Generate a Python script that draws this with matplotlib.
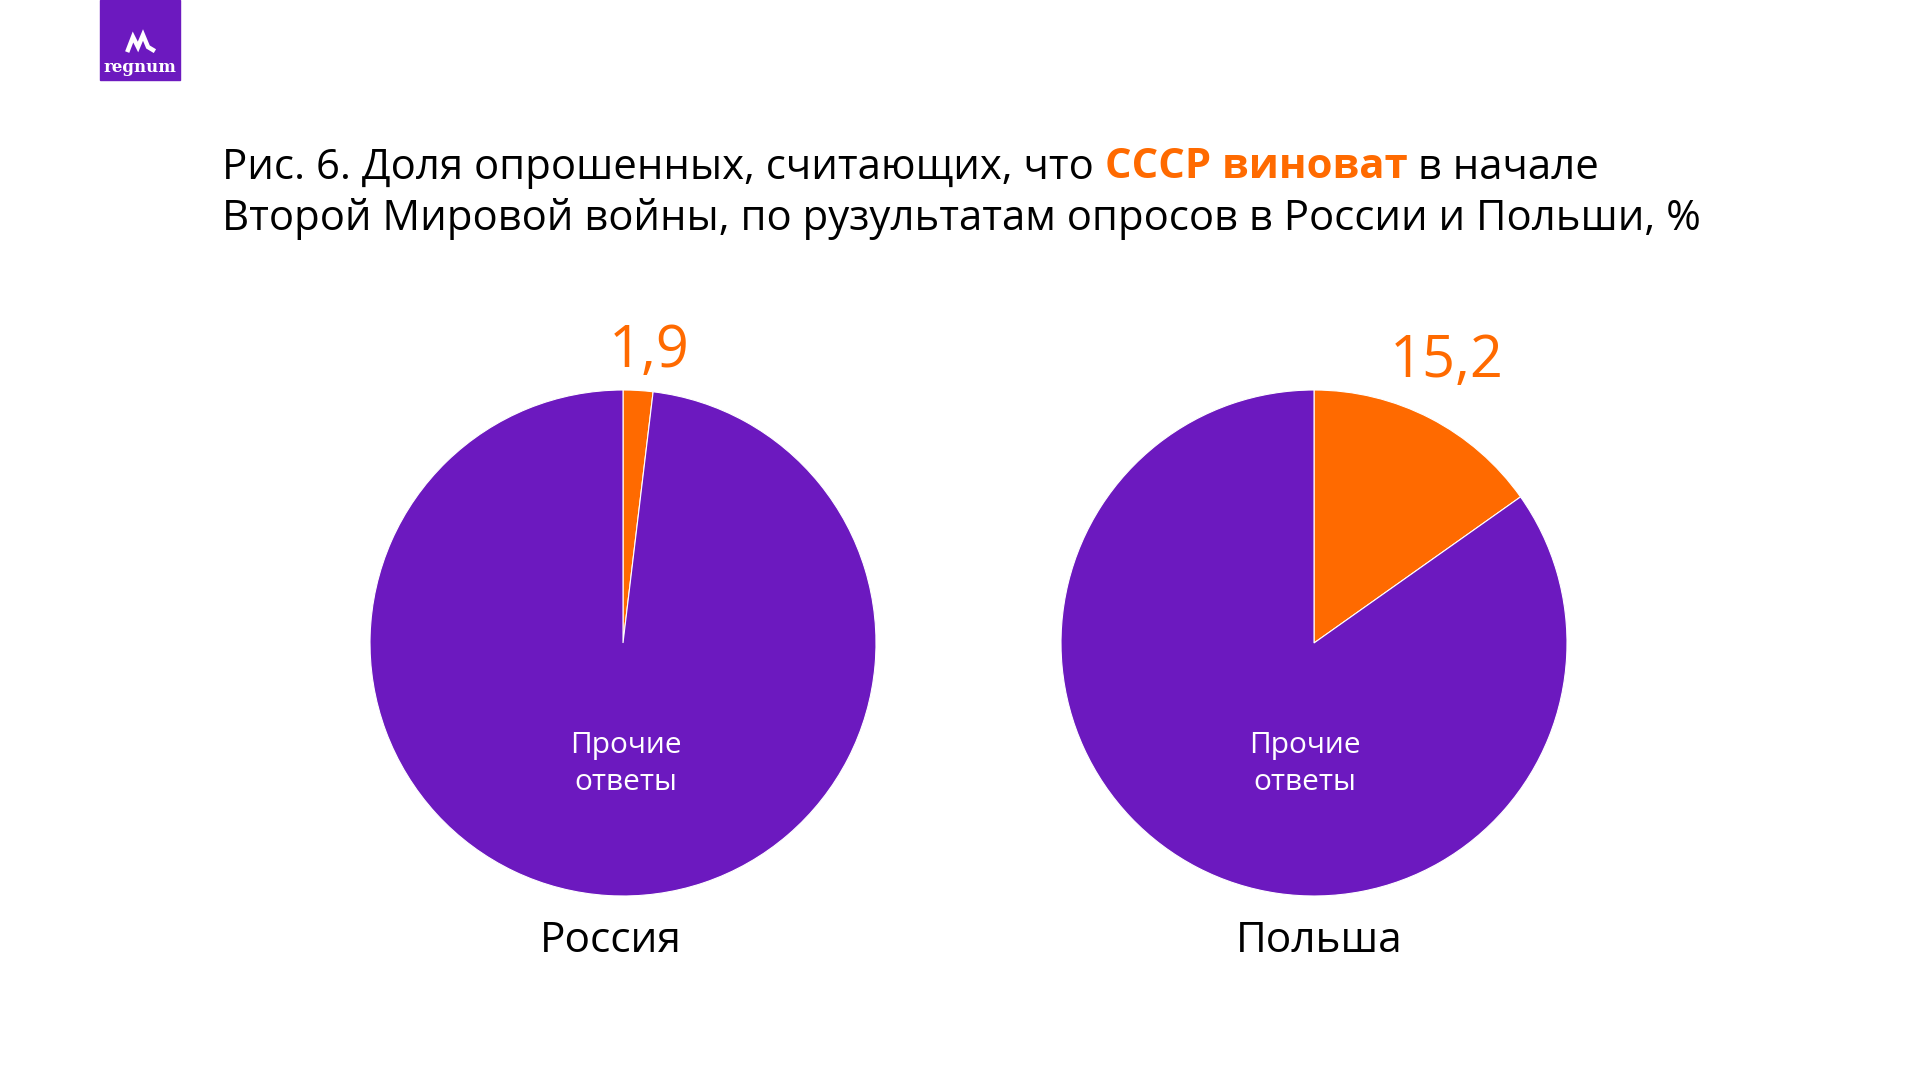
import matplotlib
matplotlib.use("Agg")
import matplotlib.pyplot as plt
from matplotlib.patches import Rectangle

plt.rcParams['font.family'] = ['Open Sans', 'DejaVu Sans']

ORANGE = '#FF6A00'
PURPLE = '#6C19BF'

countries = ['Россия', 'Польша']
guilty = [1.9, 15.2]
guilty_labels = ['1,9', '15,2']
other_label = 'Прочие\nответы'

title_parts_1 = [('Рис. 6. Доля опрошенных, считающих, что ', 'black', 'normal'),
                 ('СССР виноват', ORANGE, 'bold'),
                 (' в начале', 'black', 'normal')]
title_line_2 = 'Второй Мировой войны, по рузультатам опросов в России и Польши, %'

W, H = 1920, 1080
fig = plt.figure(figsize=(19.2, 10.8), dpi=100)
ax = fig.add_axes([0, 0, 1, 1])
ax.set_xlim(0, W)
ax.set_ylim(0, H)
ax.set_aspect('equal')
ax.axis('off')

# логотип
ax.add_patch(Rectangle((100, H - 80), 80, 80, color=PURPLE, zorder=5))
ax.plot([128, 133, 138, 143, 148, 153], [H - 50, H - 37, H - 47, H - 35, H - 47, H - 50],
        color='white', lw=3.2, solid_joinstyle='miter', zorder=6)
ax.text(140, H - 67, 'regnum', color='white', fontsize=12, fontweight='bold',
        family='DejaVu Serif', ha='center', va='center', zorder=6)

# заголовок
fig.canvas.draw()
renderer = fig.canvas.get_renderer()
x = 222
for txt, col, wt in title_parts_1:
    t = fig.text(x / W, 1 - 168 / H, txt, color=col, fontweight=wt, fontsize=30.2,
                 va='center', ha='left')
    bb = t.get_window_extent(renderer=renderer)
    x += bb.width
fig.text(222 / W, 1 - 219 / H, title_line_2, color='black', fontsize=30.2,
         va='center', ha='left')

# круговые диаграммы
centers_x = [623, 1314]
center_y = H - 643
radius = 253
label_pos = [(649, 352), (1447, 362)]
other_x = [626, 1305]
name_x = [611, 1319]

for i, country in enumerate(countries):
    vals = [guilty[i], 100 - guilty[i]]
    ax.pie(vals, colors=[ORANGE, PURPLE], startangle=90, counterclock=False,
           center=(centers_x[i], center_y), radius=radius,
           wedgeprops=dict(edgecolor='white', linewidth=0.8), frame=True)
    ax.text(label_pos[i][0], H - label_pos[i][1], guilty_labels[i], color=ORANGE,
            fontsize=41.5, ha='center', va='center')
    ax.text(other_x[i], H - 764, other_label, color='white', fontsize=21.5,
            ha='center', va='center', linespacing=1.4)
    ax.text(name_x[i], H - 941, country, color='black', fontsize=30.5,
            ha='center', va='center')

ax.set_xlim(0, W)
ax.set_ylim(0, H)
ax.axis('off')

fig.savefig('out.png', dpi=100, facecolor='white')
